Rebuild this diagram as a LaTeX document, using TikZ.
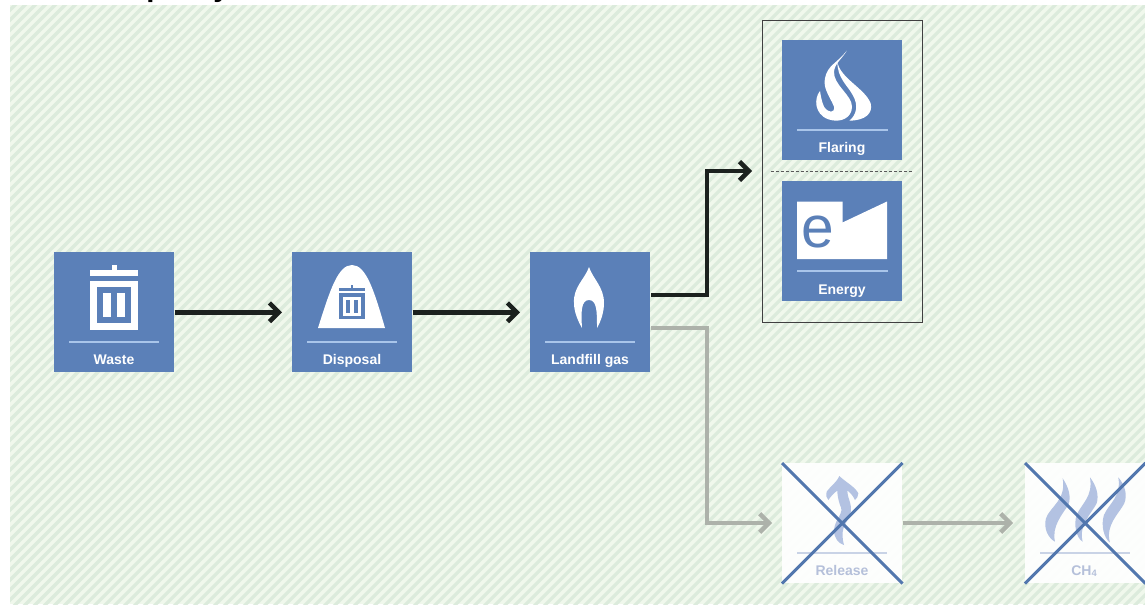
\documentclass[tikz,border=0pt]{standalone}
\usepackage{fontspec}
\setmainfont{Liberation Sans}
\usetikzlibrary{arrows.meta}
\definecolor{tileblue}{HTML}{5B80B8}
\definecolor{ruleblue}{HTML}{A9C5EA}
\definecolor{paleicon}{HTML}{B3C2E2}
\definecolor{paleline}{HTML}{C9D3E6}
\definecolor{paletext}{HTML}{B5C0DA}
\definecolor{crossblue}{HTML}{5277AE}
\definecolor{arrowblack}{HTML}{1B211E}
\definecolor{arrowgray}{HTML}{ADB2AA}
\definecolor{bgbase}{HTML}{F0F8EC}
\definecolor{bgstripe}{HTML}{DCEBDC}
\tikzset{
  tile/.style={rectangle,fill=tileblue,inner sep=0pt,minimum width=90pt,minimum height=90pt,anchor=north west},
  ghost/.style={rectangle,fill=white,fill opacity=.93,inner sep=0pt,minimum width=90pt,minimum height=90pt,anchor=north west},
  tiletext/.style={text=white,font=\bfseries\fontsize{10.5}{13}\selectfont,inner sep=0pt,anchor=base},
  ghosttext/.style={text=paletext,font=\bfseries\fontsize{10.5}{13}\selectfont,inner sep=0pt,anchor=base},
  tilerule/.style={draw=ruleblue,line width=1.6pt},
  ghostrule/.style={draw=paleline,line width=1.6pt},
  flow/.style={draw=arrowblack,line width=3.4pt,-{Straight Barb[length=7pt,width=14pt,line width=3.4pt]},line join=miter},
  flowgray/.style={draw=arrowgray,line width=3.2pt,-{Straight Barb[length=7pt,width=14pt,line width=3.2pt]},line join=miter},
  cross/.style={draw=crossblue,line width=2.3pt},
}
\newcommand{\binicon}[4]{%
  \begin{scope}[shift={(#1)},scale=#2]
    \fill[#3] (-2.5,0) rectangle (2.5,5);
    \fill[#3] (-24,5) rectangle (24,11);
    \fill[#3] (-24,16) rectangle (24,65);
    \fill[#4] (-17,22) rectangle (17,58);
    \fill[#3] (-11,28) rectangle (-3,52);
    \fill[#3] (3,28) rectangle (11,52);
  \end{scope}}
\begin{document}
\begin{tikzpicture}[x=0.75pt,y=-0.75pt]
\useasboundingbox (0,0) rectangle (1145,604);
% background
\begin{scope}
  \clip (10,5) rectangle (1145,604);
  \fill[bgbase] (10,5) rectangle (1145,604);
  \foreach \k in {0,10,...,1770}{
    \draw[bgstripe,line width=2.4pt] (\k,0) -- (\k-620,620);
  }
\end{scope}
% cropped title remnants
\node[anchor=base west,inner sep=0pt,font=\bfseries\fontsize{22}{24}\selectfont] (titlep) at (146,-4) {p};
\node[anchor=base west,inner sep=0pt,font=\bfseries\fontsize{22}{24}\selectfont] (titley) at (213,-4) {y};
% frame
\node[rectangle,draw=black!75,line width=.8pt,inner sep=0pt,minimum width=120pt,minimum height=226.5pt,anchor=north west] (frame) at (762,20) {};
% tiles
\node[tile] (waste) at (54,252) {};
\node[tile] (disposal) at (292,252) {};
\node[tile] (landfill) at (530,252) {};
\node[tile] (flaring) at (782,40) {};
\node[tile] (energy) at (782,181) {};
\node[ghost] (release) at (782,463) {};
\node[ghost] (methane) at (1025,463) {};
% rules
\draw[tilerule] (69,342) -- (159,342);
\draw[tilerule] (307,342) -- (397,342);
\draw[tilerule] (545,342) -- (635,342);
\draw[tilerule] (797,130) -- (888,130);
\draw[tilerule,line width=1pt] (797,271) -- (888,271);
\draw[ghostrule] (797,553) -- (887,553);
\draw[ghostrule] (1040,553) -- (1130,553);
% labels
\node[tiletext] (wastelabel) at (114,364) {Waste};
\node[tiletext] (disposallabel) at (352,364) {Disposal};
\node[tiletext] (landfilllabel) at (590,364) {Landfill gas};
\node[tiletext] (flaringlabel) at (842,152) {Flaring};
\node[tiletext] (energylabel) at (842,294) {Energy};
\node[ghosttext] (releaselabel) at (842,575) {Release};
\node[ghosttext] (methanelabel) at (1084,575) {CH\raisebox{-.25ex}{\fontsize{7}{8}\selectfont 4}};
% waste icon
\binicon{114,265}{1}{white}{tileblue}
% disposal icon
\fill[white] (318,328) .. controls (330,290) and (338,265) .. (352,265) .. controls (366,265) and (374,290) .. (385,328) -- cycle;
\binicon{352,285}{.53}{tileblue}{white}
% landfill flame
\fill[white] (589,267) .. controls (585,279) and (573,287) .. (574,303) .. controls (574,312) and (578,321) .. (582,328) .. controls (581,312) and (581,300) .. (589,300) .. controls (597,300) and (597,312) .. (597,328) .. controls (601,321) and (604,312) .. (604,303) .. controls (604,287) and (593,279) .. (589,267) -- cycle;
% flaring flame
\begin{scope}[shift={(750,10)},scale=.3333]
  \fill[white] (290,122) .. controls (262,160) and (232,165) .. (225,205) .. controls (218,235) and (240,260) .. (252,290) .. controls (255,310) and (235,310) .. (222,290) .. controls (215,275) and (212,255) .. (210,243) .. controls (192,265) and (192,312) .. (235,328) .. controls (270,340) and (306,325) .. (306,290) .. controls (306,255) and (250,225) .. (252,185) .. controls (254,160) and (278,145) .. (290,122) -- cycle;
  \fill[white] (262,155) .. controls (270,205) and (345,235) .. (362,280) .. controls (370,310) and (345,332) .. (298,332) .. controls (320,315) and (326,285) .. (308,255) .. controls (292,225) and (262,205) .. (262,155) -- cycle;
\end{scope}
% energy icon
\fill[white] (797,201.5) -- (842.5,201.5) -- (842.5,222.5) -- (887,201.5) -- (887,259) -- (797,259) -- cycle;
\node[text=tileblue,inner sep=0pt,font=\fontsize{44}{44}\selectfont,anchor=base] (energye) at (818,247) {e};
% release icon
\begin{scope}[shift={(760,450)},scale=.3333]
  \fill[paleicon] (238,78) .. controls (255,95) and (285,110) .. (295,130) .. controls (295,140) and (290,145) .. (285,150) .. controls (278,135) and (268,125) .. (262,122) .. controls (262,150) and (285,170) .. (265,205) .. controls (255,225) and (240,240) .. (252,285) .. controls (235,280) and (222,265) .. (222,240) .. controls (225,205) and (255,190) .. (240,165) .. controls (235,150) and (232,135) .. (232,122) .. controls (222,128) and (212,140) .. (205,150) .. controls (198,145) and (198,135) .. (200,125) .. controls (210,110) and (228,100) .. (238,78) -- cycle;
\end{scope}
% methane icon
\begin{scope}[shift={(760,450)},scale=.3333]
  \fill[paleicon] (908,85) .. controls (925,110) and (935,140) .. (925,165) .. controls (905,195) and (875,230) .. (885,275) .. controls (865,265) and (850,235) .. (858,205) .. controls (870,170) and (920,150) .. (908,85) -- cycle;
  \fill[paleicon] (990,82) .. controls (1008,105) and (1018,135) .. (1010,160) .. controls (995,190) and (955,225) .. (968,275) .. controls (950,265) and (940,225) .. (950,195) .. controls (965,160) and (1000,140) .. (990,82) -- cycle;
  \fill[paleicon] (1075,82) .. controls (1095,105) and (1103,135) .. (1093,160) .. controls (1078,190) and (1035,225) .. (1050,278) .. controls (1032,265) and (1022,225) .. (1032,195) .. controls (1047,160) and (1085,140) .. (1075,82) -- cycle;
\end{scope}
% crosses
\draw[cross] (release.north west) -- (release.south east);
\draw[cross] (release.south west) -- (release.north east);
\draw[cross] (methane.north west) -- (methane.south east);
\draw[cross] (methane.south west) -- (methane.north east);
% dotted separator
\coordinate (sepleft) at (771,171);
\coordinate (sepright) at (914,171);
\draw[black!65,line width=.7pt,dash pattern=on 2.2pt off 1.5pt] (sepleft) -- (sepright);
% connectors
\coordinate (lfblack) at (651,295);
\coordinate (lfgray) at (651,328);
\coordinate (bendblack) at (707,171);
\coordinate (bendgray) at (707,523);
\draw[flow,shorten >=7.5pt] (waste.east) -- (disposal.west);
\draw[flow,shorten >=7.5pt] (disposal.east) -- (landfill.west);
\draw[flow,shorten >=7.5pt] (lfblack) -| (bendblack) -- (frame.west |- bendblack);
\draw[flowgray,shorten >=7.5pt] (lfgray) -| (bendgray) -- (release.west |- bendgray);
\draw[flowgray,shorten >=9pt] (release.east |- bendgray) -- (methane.west |- bendgray);
\end{tikzpicture}
\end{document}
